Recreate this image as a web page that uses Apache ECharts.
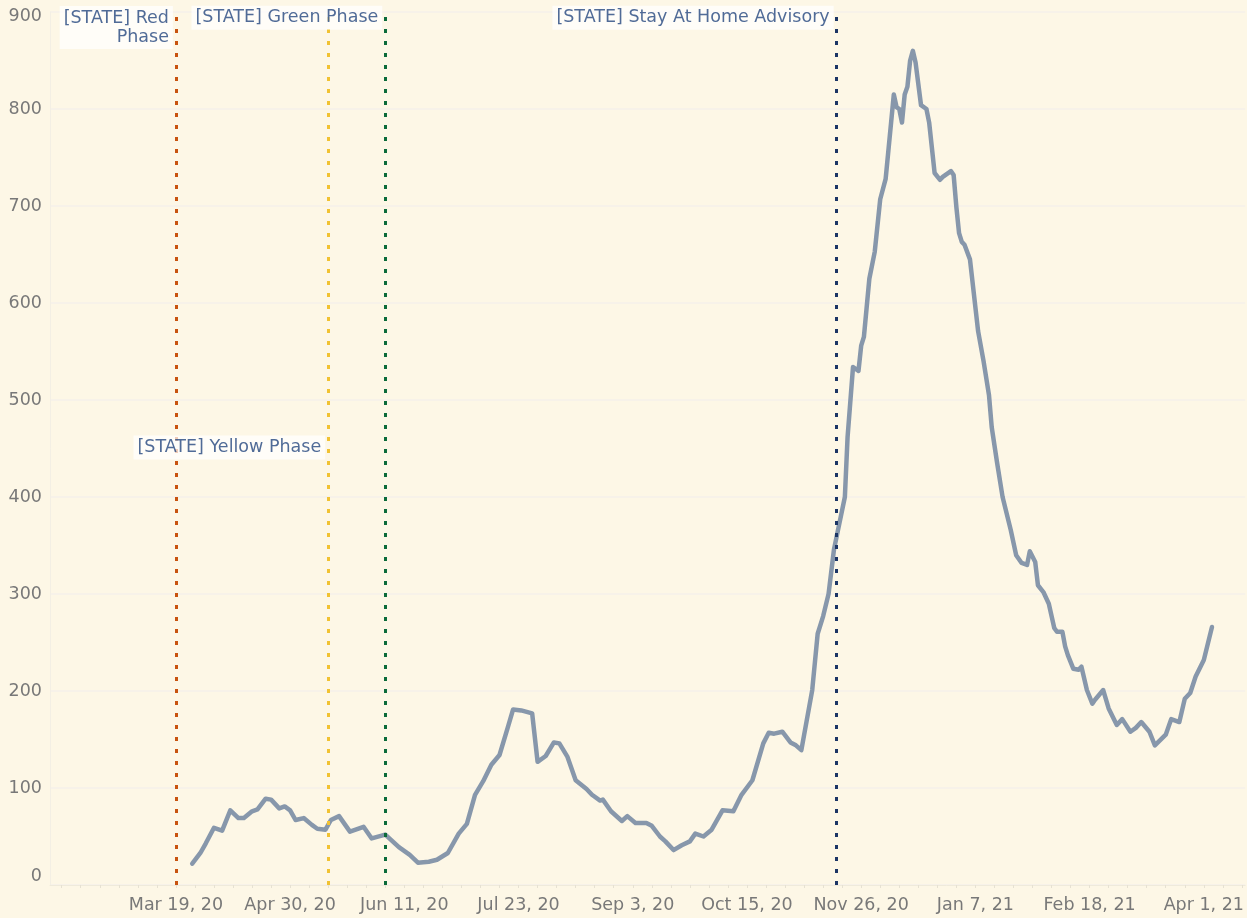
<!DOCTYPE html>
<html>
<head>
<meta charset="UTF-8">
<title>Phases</title>
<script src="https://cdn.jsdelivr.net/npm/echarts@6/dist/echarts.min.js"></script>
<style>
  html, body { margin: 0; padding: 0; background: #fdf7e6; }
</style>
</head>
<body>
<div id="main" style="width:1247px;height:918px;"></div>
<script type="text/javascript">
// daily values (7-day average)
var dates = [
  '2020-03-25','2020-03-28','2020-03-30','2020-04-02','2020-04-05','2020-04-08','2020-04-11','2020-04-13',
  '2020-04-16','2020-04-18','2020-04-21','2020-04-23','2020-04-26','2020-04-28','2020-04-30','2020-05-02',
  '2020-05-05','2020-05-08','2020-05-10','2020-05-13','2020-05-15','2020-05-18','2020-05-22','2020-05-27',
  '2020-05-30','2020-06-04','2020-06-09','2020-06-13','2020-06-16','2020-06-20','2020-06-23','2020-06-27',
  '2020-07-01','2020-07-04','2020-07-07','2020-07-10','2020-07-13','2020-07-16','2020-07-19','2020-07-21',
  '2020-07-24','2020-07-28','2020-07-30','2020-08-02','2020-08-05','2020-08-07','2020-08-10','2020-08-13',
  '2020-08-17','2020-08-19','2020-08-22','2020-08-23','2020-08-26','2020-08-30','2020-09-01','2020-09-04',
  '2020-09-08','2020-09-10','2020-09-13','2020-09-15','2020-09-18','2020-09-21','2020-09-24','2020-09-26',
  '2020-09-29','2020-10-02','2020-10-06','2020-10-10','2020-10-13','2020-10-17','2020-10-21','2020-10-23',
  '2020-10-25','2020-10-28','2020-10-31','2020-11-02','2020-11-04','2020-11-08','2020-11-10','2020-11-12',
  '2020-11-14','2020-11-16','2020-11-20','2020-11-21','2020-11-23','2020-11-25','2020-11-26','2020-11-27',
  '2020-11-29','2020-12-01','2020-12-03','2020-12-05','2020-12-06','2020-12-08','2020-12-09','2020-12-10',
  '2020-12-11','2020-12-12','2020-12-13','2020-12-14','2020-12-15','2020-12-16','2020-12-18','2020-12-20',
  '2020-12-21','2020-12-23','2020-12-25','2020-12-26','2020-12-29','2020-12-30','2020-12-31','2021-01-01',
  '2021-01-02','2021-01-03','2021-01-05','2021-01-08','2021-01-10','2021-01-12','2021-01-13','2021-01-15',
  '2021-01-17','2021-01-20','2021-01-22','2021-01-24','2021-01-26','2021-01-27','2021-01-29','2021-01-30',
  '2021-02-01','2021-02-03','2021-02-05','2021-02-06','2021-02-08','2021-02-09','2021-02-10','2021-02-12',
  '2021-02-14','2021-02-15','2021-02-17','2021-02-19','2021-02-20','2021-02-23','2021-02-25','2021-02-28',
  '2021-03-02','2021-03-05','2021-03-07','2021-03-09','2021-03-12','2021-03-14','2021-03-18','2021-03-20',
  '2021-03-23','2021-03-25','2021-03-27','2021-03-29','2021-04-01','2021-04-04'
];
var counts = [
  22, 33, 43, 59, 56, 77, 69, 69,
  76, 78, 89, 88, 79, 81, 77, 67,
  69, 62, 58, 57, 67, 71, 55, 60,
  48, 52, 39, 31, 23, 24, 26, 33,
  53, 63, 93, 107, 124, 134, 162, 181,
  180, 177, 127, 133, 147, 146, 132, 108,
  99, 93, 87, 88, 76, 66, 71, 64,
  64, 61, 50, 45, 36, 41, 45, 53,
  50, 57, 77, 76, 93, 108, 146, 157,
  156, 158, 147, 144, 139, 201, 259, 277,
  300, 346, 400, 462, 534, 530, 556, 565,
  625, 653, 707, 728, 757, 815, 802, 800,
  786, 815, 823, 850, 860, 848, 804, 800,
  786, 734, 727, 730, 736, 732, 699, 672,
  663, 660, 645, 571, 540, 505, 472, 435,
  400, 366, 340, 332, 330, 344, 333, 309,
  302, 290, 265, 261, 261, 246, 237, 223,
  222, 225, 201, 187, 191, 201, 182, 165,
  171, 158, 162, 168, 158, 144, 155, 171,
  168, 192, 198, 215, 232, 266
];

// phase changes
var phaseDates = ['2020-03-19', '2020-05-14', '2020-06-04', '2020-11-17'];
var phaseNames = ['[STATE] Red\nPhase', '[STATE] Yellow Phase', '[STATE] Green Phase', '[STATE] Stay At Home Advisory'];
var phaseColors = ['#c8530f', '#f1c232', '#0b6b3a', '#1c3565'];
var phaseLabelLevels = [884, 451, 894, 894];

var tickDates = ['2020-03-19', '2020-04-30', '2020-06-11', '2020-07-23', '2020-09-03', '2020-10-15',
  '2020-11-26', '2021-01-07', '2021-02-18', '2021-04-01'];

var DAY = 864e5;
function toTime(s) { return new Date(s + 'T00:00:00').getTime(); }
var months = ['Jan', 'Feb', 'Mar', 'Apr', 'May', 'Jun', 'Jul', 'Aug', 'Sep', 'Oct', 'Nov', 'Dec'];
function fmt(v) {
  var d = new Date(v);
  return months[d.getMonth()] + ' ' + d.getDate() + ', ' + String(d.getFullYear()).slice(2);
}

var anchor = toTime(tickDates[0]);
var xMin = anchor - 46.3 * DAY;
var xMax = anchor + 393.2 * DAY;

var weekTicks = [];
for (var t = anchor - 42 * DAY; t <= xMax; t += 7 * DAY) weekTicks.push(t);

var lineData = dates.map(function (d, i) { return [toTime(d), counts[i]]; });
var labelData = phaseDates.map(function (d, i) {
  return { name: phaseNames[i], value: [toTime(d), phaseLabelLevels[i]] };
});

var font = '"DejaVu Sans", Verdana, sans-serif';
var myChart = echarts.init(document.getElementById('main'));
myChart.setOption({
  backgroundColor: '#fdf7e6',
  animation: false,
  grid: { left: 50, right: 0, top: 12, bottom: 33 },
  xAxis: {
    type: 'value',
    min: xMin,
    max: xMax,
    axisLine: { show: true, lineStyle: { color: '#efeadb', width: 1 } },
    axisTick: { show: true, length: 3, customValues: weekTicks, lineStyle: { color: '#e6e1d2' } },
    splitLine: { show: false },
    axisLabel: {
      customValues: tickDates.map(toTime),
      formatter: fmt,
      color: '#787878',
      fontFamily: font,
      fontSize: 17.5,
      margin: 11
    }
  },
  yAxis: {
    type: 'value',
    min: 0,
    max: 900,
    interval: 100,
    axisLine: { show: true, lineStyle: { color: '#f3efe4' } },
    axisTick: { show: false },
    splitLine: { show: true, lineStyle: { color: '#f5f1ea', width: 1.5 } },
    axisLabel: {
      color: '#787878',
      fontFamily: font,
      fontSize: 17.5,
      margin: 8,
      formatter: function (v) {
        if (v === 0) return '{lo|0}';
        if (v === 900) return '{hi|900}';
        return String(v);
      },
      rich: {
        lo: { color: '#787878', fontFamily: font, fontSize: 17.5, padding: [0, 0, 18, 0] },
        hi: { color: '#787878', fontFamily: font, fontSize: 17.5, padding: [8, 0, 0, 0] }
      }
    }
  },
  series: [{
    type: 'line',
    data: lineData,
    showSymbol: false,
    smooth: false,
    lineStyle: { color: '#8797ab', width: 4.5, join: 'round', cap: 'round' },
    z: 3,
    markLine: {
      silent: true,
      symbol: 'none',
      label: { show: false },
      data: phaseDates.map(function (d, i) {
        return {
          xAxis: toTime(d),
          lineStyle: { color: phaseColors[i], type: [4, 8], width: 3, cap: 'butt' }
        };
      })
    }
  }, {
    type: 'scatter',
    data: labelData,
    symbolSize: 0,
    silent: true,
    z: 10,
    label: {
      show: true,
      position: 'left',
      distance: 3,
      formatter: '{b}',
      align: 'right',
      color: '#24467e',
      fontFamily: font,
      fontSize: 17.5,
      lineHeight: 19,
      backgroundColor: 'rgba(255,255,255,0.88)',
      padding: [3, 4, 2, 4]
    }
  }]
});
</script>
</body>
</html>
